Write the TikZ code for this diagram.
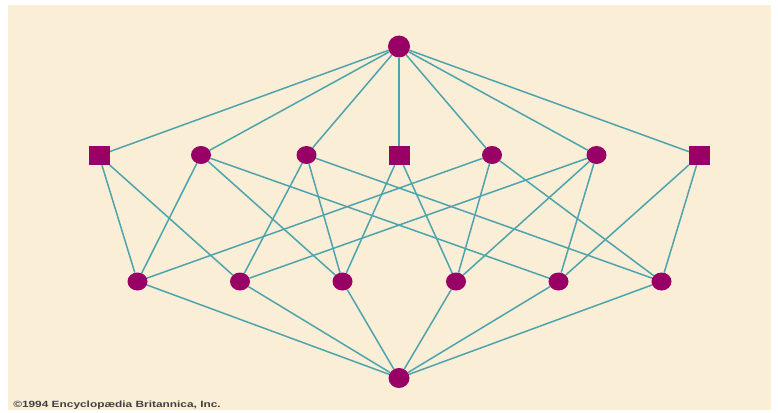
\documentclass[tikz,border=0pt]{standalone}
\usepackage{fontspec}
\setmainfont{Liberation Sans}
\usetikzlibrary{shapes.geometric,backgrounds}
\definecolor{cream}{HTML}{FAEED7}
\definecolor{teal2}{HTML}{4DA4AC}
\definecolor{plum}{HTML}{990066}
\begin{document}
\begin{tikzpicture}[x=1pt,y=-1pt,
  dot/.style={ellipse,fill=plum,inner sep=0pt,minimum width=20pt,minimum height=18pt},
  bigdot/.style={ellipse,fill=plum,inner sep=0pt,minimum width=22pt,minimum height=22pt},
  sq/.style={rectangle,fill=plum,inner sep=0pt,minimum width=21pt,minimum height=19pt},
  link/.style={draw=teal2,line width=1.5pt}]
\useasboundingbox (0,0) rectangle (778,412);
\begin{pgfonlayer}{background}
\fill[white] (0,0) rectangle (778,412);
\fill[cream] (8,5) rectangle (771,410);
\end{pgfonlayer}
% nodes
\node[bigdot] (top) at (399,46.5) {};
\node[sq]  (t1) at (99,155.5) {};
\node[dot] (t2) at (201,155) {};
\node[dot] (t3) at (306.5,155) {};
\node[sq]  (t4) at (399,155.5) {};
\node[dot] (t5) at (492,155) {};
\node[dot] (t6) at (596.5,155) {};
\node[sq]  (t7) at (699.5,155.5) {};
\node[dot] (b1) at (137.5,281.5) {};
\node[dot] (b2) at (240,281.5) {};
\node[dot] (b3) at (342.5,281.5) {};
\node[dot] (b4) at (456,281.5) {};
\node[dot] (b5) at (558.5,281.5) {};
\node[dot] (b6) at (661.5,281.5) {};
\node[bigdot,minimum width=21pt,minimum height=20pt] (bot) at (399,378) {};
\node[anchor=west,inner sep=0pt,xscale=1.32,font=\bfseries\fontsize{9}{10}\selectfont,text=black!75] (copy) at (13,405.5) {©1994 Encyclopædia Britannica, Inc.};
% edges
\begin{pgfonlayer}{background}
\foreach \t in {t1,t2,t3,t4,t5,t6,t7} {\draw[link] (top) -- (\t);}
\foreach \b in {b1,b2,b3,b4,b5,b6} {\draw[link] (bot) -- (\b);}
\draw[link] (t1) -- (b1); \draw[link] (t1) -- (b2);
\draw[link] (t2) -- (b1); \draw[link] (t2) -- (b3); \draw[link] (t2) -- (b5);
\draw[link] (t3) -- (b2); \draw[link] (t3) -- (b3); \draw[link] (t3) -- (b6);
\draw[link] (t4) -- (b3); \draw[link] (t4) -- (b4);
\draw[link] (t5) -- (b1); \draw[link] (t5) -- (b4); \draw[link] (t5) -- (b6);
\draw[link] (t6) -- (b2); \draw[link] (t6) -- (b4); \draw[link] (t6) -- (b5);
\draw[link] (t7) -- (b5); \draw[link] (t7) -- (b6);
\end{pgfonlayer}
\end{tikzpicture}
\end{document}
